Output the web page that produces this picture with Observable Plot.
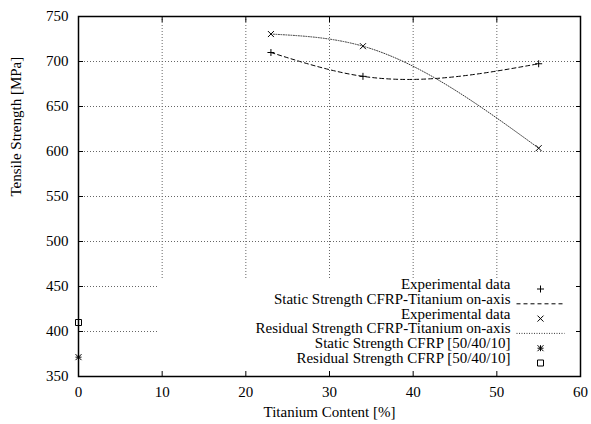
<!DOCTYPE html>
<html><head><meta charset="utf-8">
<script src="https://cdn.jsdelivr.net/npm/d3@7"></script>
<script src="https://cdn.jsdelivr.net/npm/@observablehq/plot@0.6"></script>
<style>
body{margin:0;background:#fff}
#chart svg{font-family:"Liberation Serif", serif !important;font-size:15px !important;background:#fff}
#chart svg text{font-family:"Liberation Serif", serif !important;}
</style>
</head><body><div id="chart"></div>
<script>
// ---- data ----
const titaniumContent = [23, 34, 55];
const staticStrength = [710, 683.5, 697.5];
const residualStrength = [730.5, 717, 603.7];
const cfrpContent = [0];
const cfrpStatic = [371.5];
const cfrpResidual = [410];
const xTicks = [0, 10, 20, 30, 40, 50, 60];
const yTicks = [350, 400, 450, 500, 550, 600, 650, 700, 750];
const xLabel = "Titanium Content [%]";
const yLabel = "Tensile Strength [MPa]";
const legendLabels = [
  "Experimental data",
  "Static Strength CFRP-Titanium on-axis",
  "Experimental data",
  "Residual Strength CFRP-Titanium on-axis",
  "Static Strength CFRP [50/40/10]",
  "Residual Strength CFRP [50/40/10]"
];
const keyBox = [{x1: 9.6, x2: 60, y1: 350, y2: 457}];

const staticData = titaniumContent.map((x, i) => ({x, y: staticStrength[i]}));
const residualData = titaniumContent.map((x, i) => ({x, y: residualStrength[i]}));
const cfrpStaticData = cfrpContent.map((x, i) => ({x, y: cfrpStatic[i]}));
const cfrpResidualData = cfrpContent.map((x, i) => ({x, y: cfrpResidual[i]}));

// natural cubic spline y(x) curve (like gnuplot "smooth csplines")
function naturalX(context) {
  let xs, ys;
  return {
    areaStart() {}, areaEnd() {},
    lineStart() { xs = []; ys = []; },
    point(x, y) { xs.push(+x); ys.push(+y); },
    lineEnd() {
      const n = xs.length;
      if (!n) return;
      context.moveTo(xs[0], ys[0]);
      if (n === 1) return;
      if (n === 2) { context.lineTo(xs[1], ys[1]); return; }
      const h = [], M = new Array(n).fill(0);
      for (let i = 0; i < n - 1; i++) h.push(xs[i + 1] - xs[i]);
      const a = [], b = [], c = [], r = [];
      for (let i = 1; i < n - 1; i++) {
        a.push(h[i - 1]); b.push(2 * (h[i - 1] + h[i])); c.push(h[i]);
        r.push(6 * ((ys[i + 1] - ys[i]) / h[i] - (ys[i] - ys[i - 1]) / h[i - 1]));
      }
      const m = b.length;
      for (let i = 1; i < m; i++) { const w = a[i] / b[i - 1]; b[i] -= w * c[i - 1]; r[i] -= w * r[i - 1]; }
      const sol = new Array(m);
      sol[m - 1] = r[m - 1] / b[m - 1];
      for (let i = m - 2; i >= 0; i--) sol[i] = (r[i] - c[i] * sol[i + 1]) / b[i];
      for (let i = 0; i < m; i++) M[i + 1] = sol[i];
      for (let i = 0; i < n - 1; i++) {
        const hi = h[i], s = (ys[i + 1] - ys[i]) / hi;
        const d0 = s - hi * (2 * M[i] + M[i + 1]) / 6;
        const d1 = s + hi * (M[i] + 2 * M[i + 1]) / 6;
        context.bezierCurveTo(xs[i] + hi / 3, ys[i] + d0 * hi / 3, xs[i + 1] - hi / 3, ys[i + 1] - d1 * hi / 3, xs[i + 1], ys[i + 1]);
      }
    }
  };
}

// symbols
const plusSym = {draw(c) { const r = 3.5; c.moveTo(-r, 0); c.lineTo(r, 0); c.moveTo(0, -r); c.lineTo(0, r); }};
const timesSym = {draw(c) { const r = 3; c.moveTo(-r, -r); c.lineTo(r, r); c.moveTo(-r, r); c.lineTo(r, -r); }};
const starSym = {draw(c) { const r = 3; c.moveTo(-r, -r); c.lineTo(r, r); c.moveTo(-r, r); c.lineTo(r, -r); c.moveTo(-r, 0); c.lineTo(r, 0); c.moveTo(0, -r); c.lineTo(0, r); }};
const squareSym = {draw(c) { c.rect(-3, -3, 6, 6); }};
const lineSym = {draw(c) { c.moveTo(-24, 0); c.lineTo(24, 0); }};

const staticLine = {stroke: "black", strokeWidth: 1, strokeDasharray: "4,3"};
const residualLine = {stroke: "#222", strokeWidth: 0.9, strokeDasharray: "1,1.5"};
const mk = {fill: "none", stroke: "black", strokeWidth: 1};

const legendSymbols = [
  {symbol: plusSym, ...mk},
  {symbol: lineSym, fill: "none", ...staticLine},
  {symbol: timesSym, ...mk},
  {symbol: lineSym, fill: "none", ...residualLine},
  {symbol: starSym, ...mk},
  {symbol: squareSym, ...mk}
];
const rowDy = i => -(87.5 - 14.8 * i);
const FS = 15;

const legendMarks = legendLabels.flatMap((lab, i) => [
  Plot.text([lab], {text: d => d, frameAnchor: "bottom-right", dx: -70, dy: rowDy(i), textAnchor: "end", fill: "black", fontSize: FS}),
  Plot.dot([lab], {frameAnchor: "bottom-right", dx: -40, dy: rowDy(i), ...legendSymbols[i]})
]);

const chart = Plot.plot({
  width: 591,
  height: 424,
  marginLeft: 78,
  marginRight: 11,
  marginTop: 16,
  marginBottom: 48,
  style: {fontFamily: "Liberation Serif", fontSize: "15px", background: "white", color: "black"},
  x: {domain: [0, 60]},
  y: {domain: [350, 750]},
  marks: [
    Plot.gridX({ticks: xTicks.slice(1, -1), stroke: "#666", strokeOpacity: 1, strokeDasharray: "1,2"}),
    Plot.gridY({ticks: yTicks.slice(1, -1), stroke: "#666", strokeOpacity: 1, strokeDasharray: "1,2"}),
    Plot.rect(keyBox, {x1: "x1", x2: "x2", y1: "y1", y2: "y2", fill: "white"}),
    Plot.line(staticData, {x: "x", y: "y", curve: naturalX, ...staticLine}),
    Plot.line(residualData, {x: "x", y: "y", curve: naturalX, ...residualLine}),
    Plot.dot(staticData, {x: "x", y: "y", symbol: plusSym, ...mk}),
    Plot.dot(residualData, {x: "x", y: "y", symbol: timesSym, ...mk}),
    Plot.dot(cfrpStaticData, {x: "x", y: "y", symbol: starSym, ...mk}),
    Plot.dot(cfrpResidualData, {x: "x", y: "y", symbol: squareSym, ...mk}),
    Plot.frame({stroke: "black", strokeWidth: 1.5}),
    Plot.axisX({anchor: "bottom", ticks: xTicks, tickSize: -5, fill: "none", stroke: "black"}),
    Plot.axisX({anchor: "top", ticks: xTicks, tickSize: -5, fill: "none", stroke: "black"}),
    Plot.axisY({anchor: "left", ticks: yTicks, tickSize: -5, fill: "none", stroke: "black"}),
    Plot.axisY({anchor: "right", ticks: yTicks, tickSize: -5, fill: "none", stroke: "black"}),
    Plot.axisX({anchor: "bottom", ticks: xTicks, tickSize: 0, tickPadding: 10, label: null, fill: "black", fontSize: FS}),
    Plot.axisY({anchor: "left", ticks: yTicks, tickSize: 0, tickPadding: 10, label: null, fill: "black", fontSize: FS}),
    Plot.text([xLabel], {text: d => d, frameAnchor: "bottom", dy: 40, fill: "black", fontSize: FS}),
    Plot.text([yLabel], {text: d => d, frameAnchor: "left", dx: -62, rotate: -90, fill: "black", fontSize: FS}),
    ...legendMarks
  ]
});
document.getElementById("chart").appendChild(chart);
</script>
</body></html>
